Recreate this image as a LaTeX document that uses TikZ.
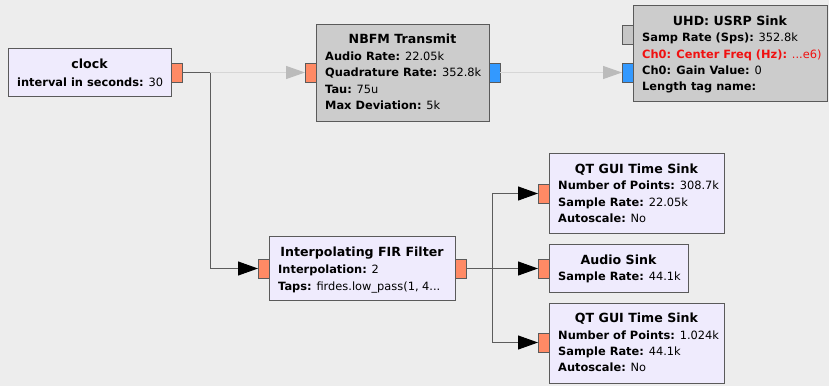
\documentclass[tikz,border=0pt]{standalone}
\usepackage{fontspec}
\setmainfont{DejaVu Sans}
\usetikzlibrary{arrows.meta}

\definecolor{canvas}{HTML}{EDEDED}
\definecolor{blockfill}{HTML}{EFEBFD}
\definecolor{offfill}{HTML}{CCCCCC}
\definecolor{edge}{HTML}{5A5A5A}
\definecolor{floatport}{HTML}{FF8A65}
\definecolor{cplxport}{HTML}{3399FF}
\definecolor{msgport}{HTML}{C6C6C6}
\definecolor{wire}{HTML}{5C5C5C}
\definecolor{offwire}{HTML}{D6D6D6}
\definecolor{offtip}{HTML}{BBBBBB}
\definecolor{warn}{HTML}{F01010}

\newcommand{\bodyfont}{\fontsize{11.4}{16}\selectfont}
\newcommand{\headfont}{\fontsize{12.6}{16}\selectfont\bfseries}
\newcommand{\param}[2]{{\bfseries #1:} #2}

\tikzset{
  block/.style={draw=edge, fill=blockfill, line width=1pt, anchor=north west,
    inner sep=0pt, outer sep=0pt},
  offblock/.style={block, fill=offfill},
  port/.style={draw=edge, line width=0.8pt, anchor=north west, inner sep=0pt,
    outer sep=0pt, minimum width=11pt, minimum height=19pt},
  fport/.style={port, fill=floatport},
  cport/.style={port, fill=cplxport},
  mport/.style={port, fill=msgport},
  head/.style={anchor=base, inner sep=0pt, font=\headfont},
  prm/.style={anchor=base west, inner sep=0pt, font=\bodyfont},
  link/.style={draw=wire, line width=1pt,
    -{Triangle[length=20pt,width=14pt,color=black]}},
  offlink/.style={draw=offwire, line width=1.2pt,
    -{Triangle[length=19pt,width=13pt,color=offtip]}},
  stub/.style={draw=wire, line width=1pt}
}

\begin{document}
\begin{tikzpicture}[x=1pt,y=-1pt]
  \fill[canvas] (0,0) rectangle (829,386);
  \useasboundingbox (0,0) rectangle (829,386);

  % clock source
  \node[block, minimum width=163pt, minimum height=48pt] (clock) at (8,48) {};
  \node[fport] (clockout) at (171,63) {};
  \node[head] (clockt) at (89.5,68) {clock};
  \node[prm] (clockp1) at (17,86) {\param{interval in seconds}{30}};

  % NBFM transmitter
  \node[offblock, minimum width=173pt, minimum height=97pt] (nbfm) at (316,24) {};
  \node[fport] (nbfmin) at (305,63) {};
  \node[cport] (nbfmout) at (489,63) {};
  \node[head] (nbfmt) at (402.5,43) {NBFM Transmit};
  \node[prm] (nbfmp1) at (325,60) {\param{Audio Rate}{22.05k}};
  \node[prm] (nbfmp2) at (325,76.5) {\param{Quadrature Rate}{352.8k}};
  \node[prm] (nbfmp3) at (325,93) {\param{Tau}{75u}};
  \node[prm] (nbfmp4) at (325,109.5) {\param{Max Deviation}{5k}};

  % USRP sink
  \node[offblock, minimum width=194pt, minimum height=96pt] (usrp) at (633,5) {};
  \node[mport] (usrpmsg) at (622,25) {};
  \node[cport] (usrpin) at (622,63) {};
  \node[head] (usrpt) at (730,25) {UHD: USRP Sink};
  \node[prm] (usrpp1) at (642,41.7) {\param{Samp Rate (Sps)}{352.8k}};
  \node[prm, text=warn] (usrpp2) at (642,58) {\param{Ch0: Center Freq (Hz)}{...e6)}};
  \node[prm] (usrpp3) at (642,74.3) {\param{Ch0: Gain Value}{0}};
  \node[prm] (usrpp4) at (642,90.7) {\param{Length tag name}{}};

  % interpolating filter
  \node[block, minimum width=186pt, minimum height=64pt] (fir) at (269,236) {};
  \node[fport] (firin) at (258,259) {};
  \node[fport] (firout) at (455,259) {};
  \node[head] (firt) at (362,256) {Interpolating FIR Filter};
  \node[prm] (firp1) at (278,273) {\param{Interpolation}{2}};
  \node[prm] (firp2) at (278,290) {\param{Taps}{firdes.low\_pass(1, 4...}};

  % time sink, audio rate
  \node[block, minimum width=175pt, minimum height=80pt] (qta) at (549,153) {};
  \node[fport] (qtain) at (538,184) {};
  \node[head] (qtat) at (636.5,173) {QT GUI Time Sink};
  \node[prm] (qtap1) at (558,189.5) {\param{Number of Points}{308.7k}};
  \node[prm] (qtap2) at (558,206) {\param{Sample Rate}{22.05k}};
  \node[prm] (qtap3) at (558,222.7) {\param{Autoscale}{No}};

  % audio sink
  \node[block, minimum width=139pt, minimum height=48pt] (aud) at (549,244) {};
  \node[fport] (audin) at (538,259) {};
  \node[head] (audt) at (618.5,264) {Audio Sink};
  \node[prm] (audp1) at (558,280.7) {\param{Sample Rate}{44.1k}};

  % time sink, interpolated rate
  \node[block, minimum width=175pt, minimum height=80pt] (qtb) at (549,303) {};
  \node[fport] (qtbin) at (538,333) {};
  \node[head] (qtbt) at (636.5,322) {QT GUI Time Sink};
  \node[prm] (qtbp1) at (558,339.3) {\param{Number of Points}{1.024k}};
  \node[prm] (qtbp2) at (558,355.7) {\param{Sample Rate}{44.1k}};
  \node[prm] (qtbp3) at (558,371.7) {\param{Autoscale}{No}};

  % connections
  \coordinate (split1) at (210,72.5);
  \coordinate (split2) at (492,268.5);
  \draw[offlink] (split1) -- (nbfmin.west);
  \draw[offlink] (nbfmout.east) -- (usrpin.west);
  \draw[stub] (clockout.east) -- (split1);
  \draw[link] (split1) |- (firin.west);
  \draw[stub] (firout.east) -- (split2);
  \draw[link] (split2) -- (audin.west);
  \draw[link] (split2) |- (qtain.west);
  \draw[link] (split2) |- (qtbin.west);
\end{tikzpicture}
\end{document}
